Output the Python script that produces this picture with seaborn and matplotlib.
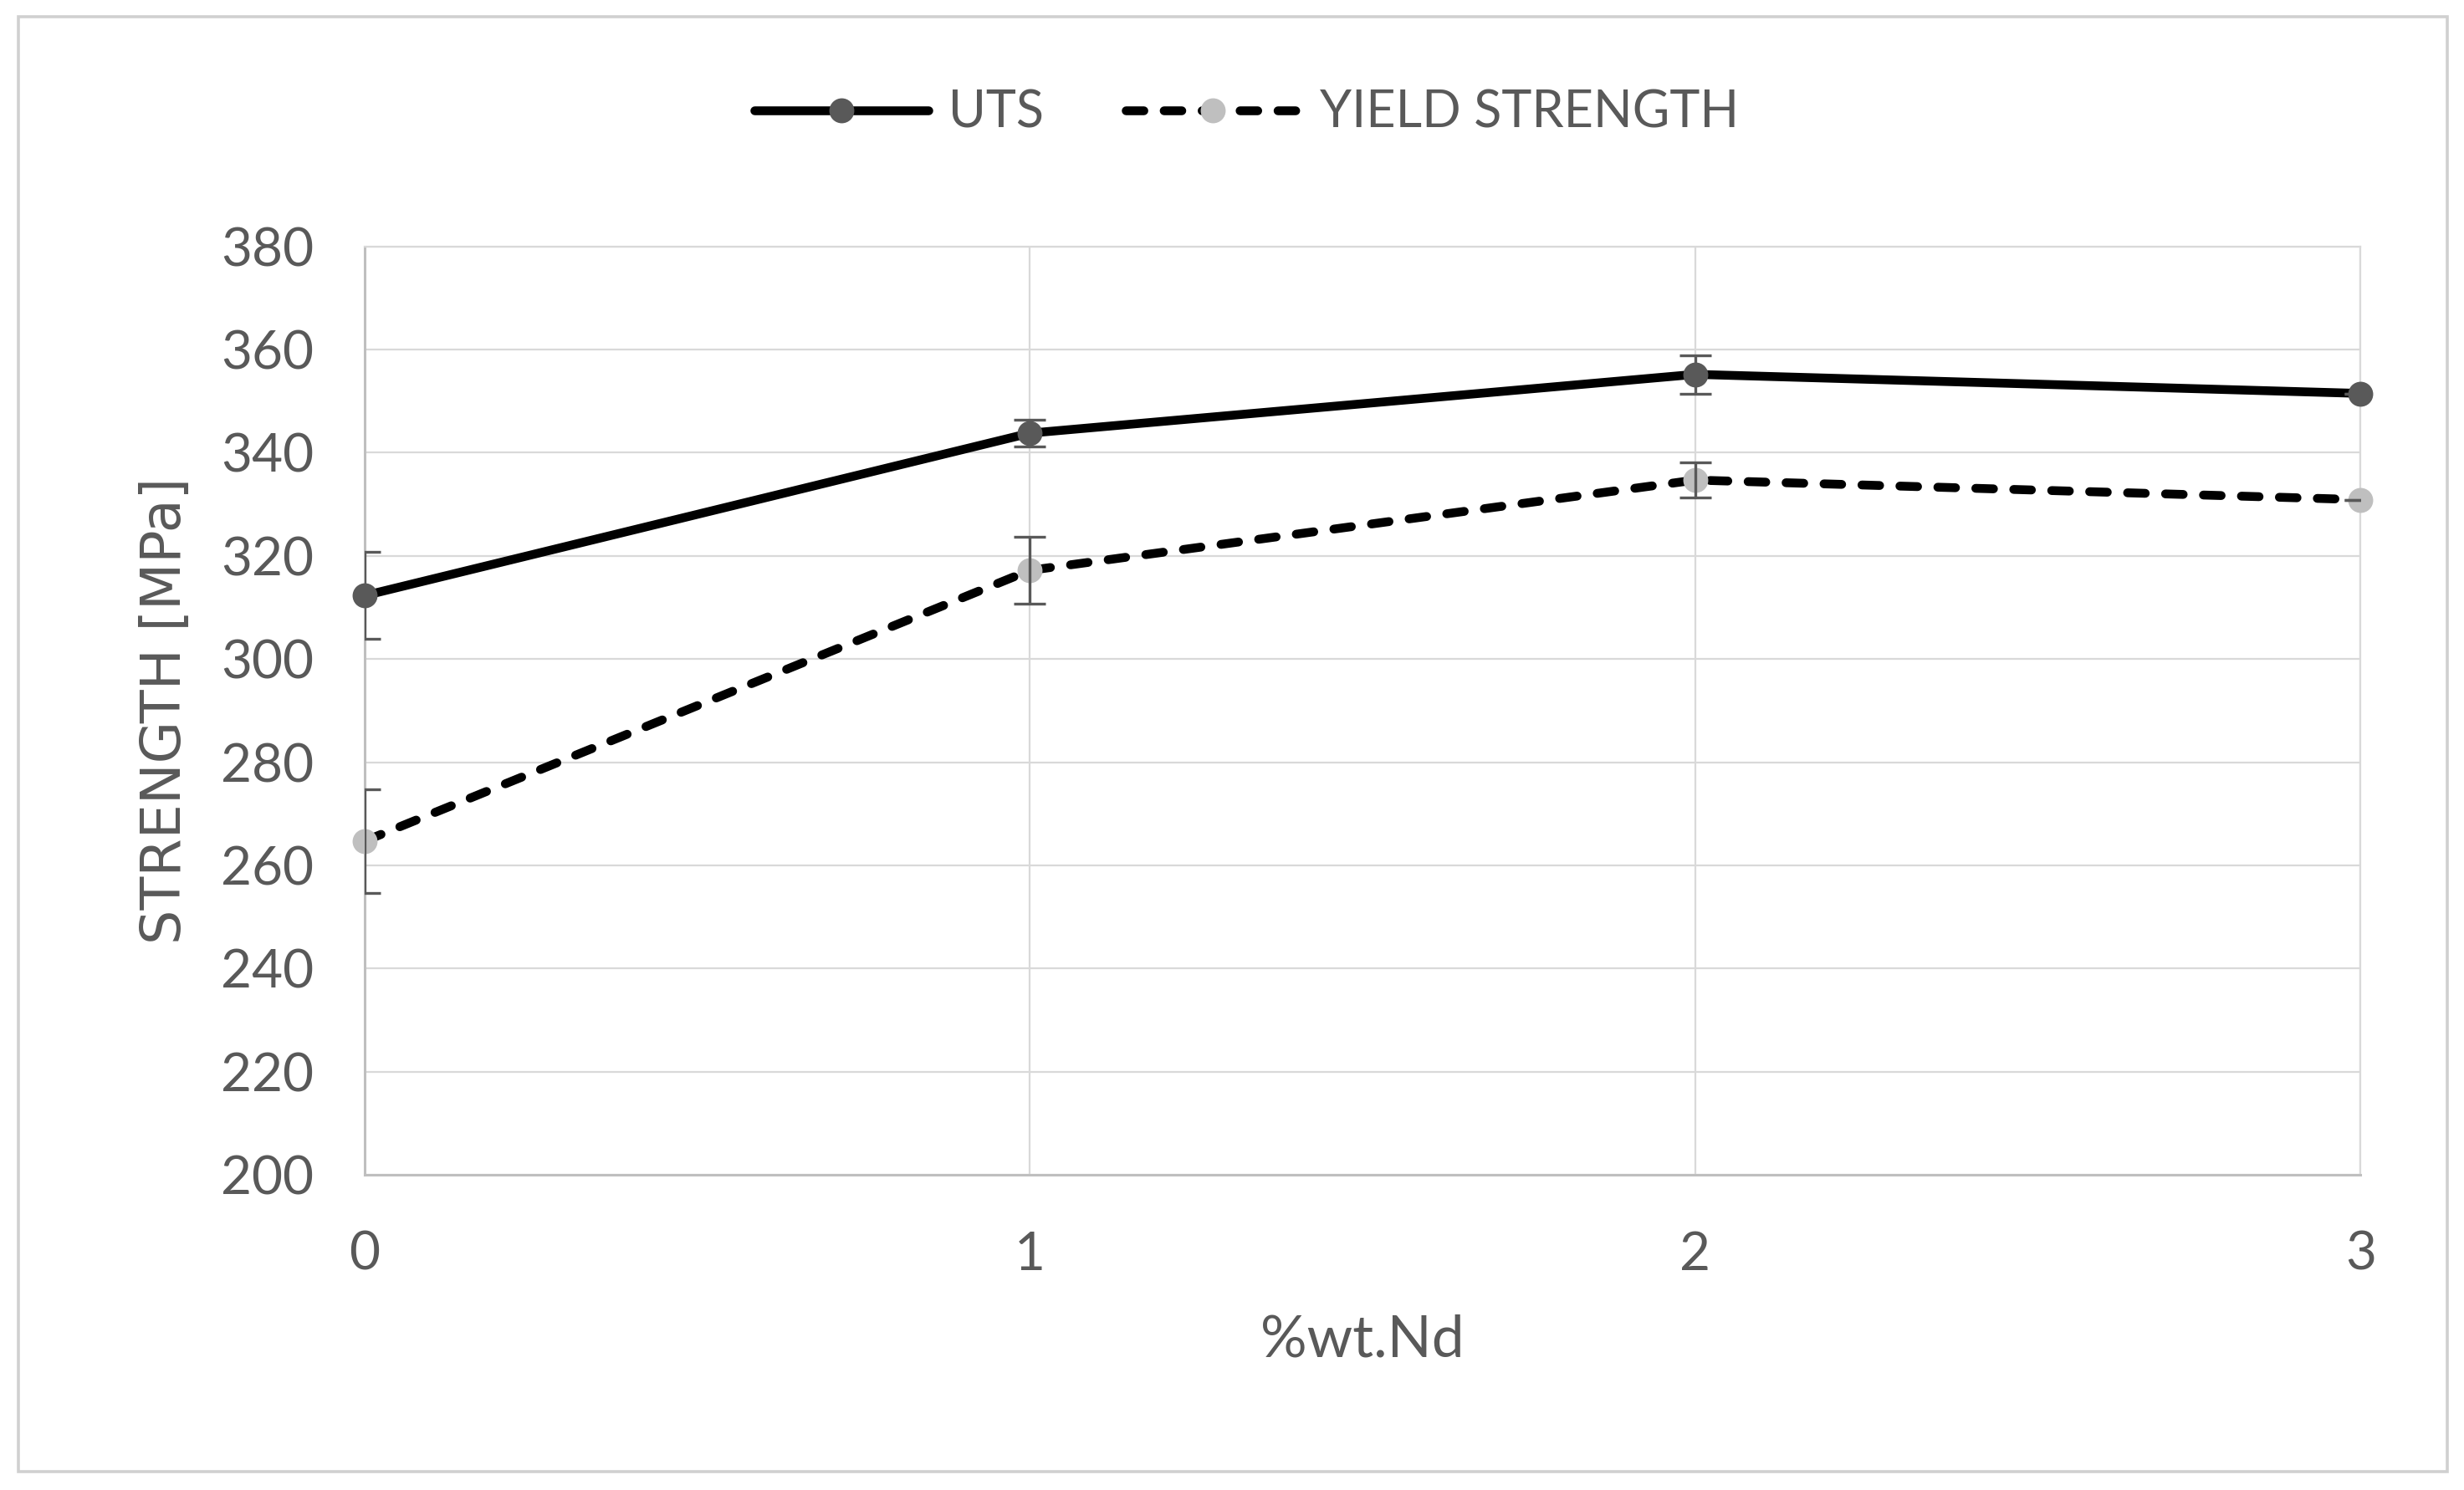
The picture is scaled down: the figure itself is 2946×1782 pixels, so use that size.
import matplotlib
matplotlib.use("Agg")
import matplotlib.pyplot as plt
import matplotlib.patches as patches
import numpy as np
import pandas as pd
import seaborn as sns

# data
nd = [0, 1, 2, 3]
uts = [312.3, 343.8, 355.2, 351.5]
uts_err = [8.4, 2.6, 3.7, 0.0]
yield_str = [264.7, 317.2, 334.7, 330.9]
yield_err = [10.0, 6.5, 3.4, 0.0]
y_ticks = [200, 220, 240, 260, 280, 300, 320, 340, 360, 380]

sns.set_theme(style="white")
plt.rcParams['font.family'] = ['Lato', 'DejaVu Sans']
txt_col = '#595959'

df = pd.DataFrame({'nd': nd, 'UTS': uts, 'YIELD STRENGTH': yield_str})

fig = plt.figure(figsize=(14.73, 8.91), dpi=200)
ax = fig.add_axes([0.148, 0.2116, 0.81, 0.623])

# outer chart border
fig.patches.append(patches.Rectangle((22 / 2946, 22 / 1782), 1 - 42 / 2946, 1 - 42 / 1782,
                                     transform=fig.transFigure, fill=False,
                                     edgecolor='#d0d0d0', linewidth=1.3))

sns.lineplot(data=df, x='nd', y='UTS', ax=ax, color='black', linewidth=3.8,
             marker='o', markersize=10, markerfacecolor='#595959', markeredgecolor='#595959',
             label='UTS', clip_on=False, zorder=4)
sns.lineplot(data=df, x='nd', y='YIELD STRENGTH', ax=ax, color='black', linewidth=3.8,
             linestyle=(0, (2.0, 2.3)), dash_capstyle='round', marker='o', markersize=10,
             markerfacecolor='#bfbfbf', markeredgecolor='#bfbfbf',
             label='YIELD STRENGTH', clip_on=False, zorder=4)

# error bars (clipped by the axes, like the original)
for vals, errs in [(uts, uts_err), (yield_str, yield_err)]:
    ax.errorbar(nd, vals, yerr=errs, fmt='none', ecolor='#595959', elinewidth=1.2,
                capsize=7, capthick=1.2, zorder=5)

ax.set_xlim(0, 3)
ax.set_ylim(200, 380)
ax.set_xticks(nd)
ax.set_yticks(y_ticks)
ax.grid(True, color='#d9d9d9', linewidth=0.8)
ax.set_axisbelow(True)
for side in ['top', 'right']:
    ax.spines[side].set_color('#d9d9d9')
    ax.spines[side].set_linewidth(0.8)
for side in ['left', 'bottom']:
    ax.spines[side].set_color('#bfbfbf')
    ax.spines[side].set_linewidth(1.1)

ax.tick_params(axis='y', length=0, pad=22, labelsize=23, labelcolor=txt_col)
ax.tick_params(axis='x', length=0, pad=24, labelsize=23, labelcolor=txt_col)

ax.set_xlabel('%wt.Nd', fontsize=25, color=txt_col, labelpad=15)
ax.set_ylabel('STRENGTH [MPa]', fontsize=23.5, color=txt_col, labelpad=12,
              family=['DejaVu Sans'])

ax.get_legend().remove()
handles, labels = ax.get_legend_handles_labels()
leg = fig.legend(handles, labels, loc='center', bbox_to_anchor=(0.506, 0.924), ncol=2,
                 frameon=False, fontsize=22, handlelength=3.4, handletextpad=0.4,
                 columnspacing=1.6, numpoints=1)
for t in leg.get_texts():
    t.set_color(txt_col)

fig.savefig('out.png', dpi=200, facecolor='white')
